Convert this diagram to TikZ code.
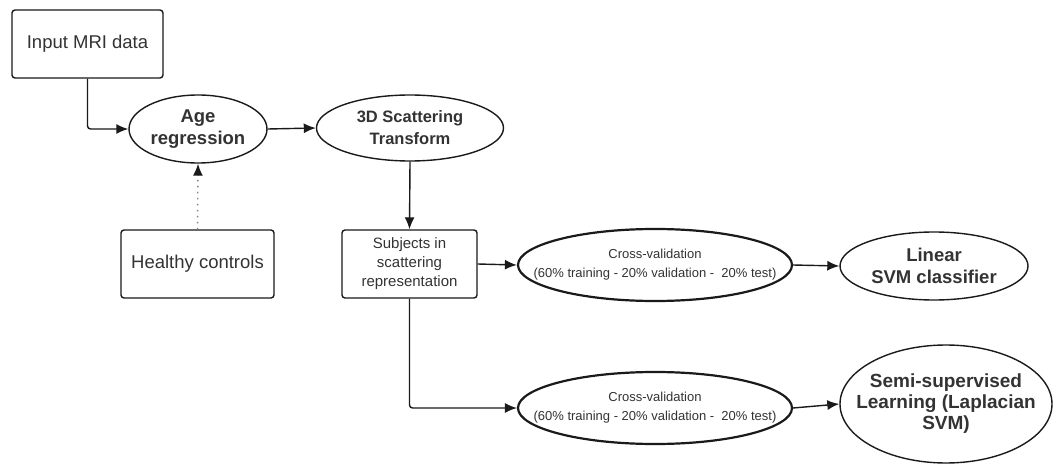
\documentclass[tikz,border=0pt]{standalone}
\usepackage{fontspec}
\setmainfont{Liberation Sans}
\usetikzlibrary{shapes.geometric,arrows.meta}
\definecolor{txt}{HTML}{333333}
\definecolor{ln}{HTML}{1A1A1A}
\begin{document}
\begin{tikzpicture}[x=1pt,y=-1pt,
  every node/.style={text=txt, align=center, inner sep=0pt},
  box/.style={draw=ln, line width=1.4pt, rounded corners=3pt, rectangle},
  ell/.style={draw=ln, line width=1.4pt, ellipse},
  cvell/.style={draw=ln, line width=2.2pt, ellipse},
  arr/.style={draw=ln, line width=1.4pt, -{Latex[length=12pt,width=10pt]}},
  big/.style={font=\fontsize{18.5pt}{22pt}\selectfont},
  bigb/.style={font=\fontsize{18.5pt}{22pt}\selectfont\bfseries},
  midb/.style={font=\fontsize{16.5pt}{22pt}\selectfont\bfseries},
  semib/.style={font=\fontsize{19pt}{21pt}\selectfont\bfseries},
  subf/.style={font=\fontsize{15pt}{19pt}\selectfont},
  cvf/.style={font=\fontsize{13pt}{19pt}\selectfont},
]
\useasboundingbox (0,0) rectangle (1055,465);
\fill[white] (0,0) rectangle (1055,465);

\node[box, big, minimum width=151pt, minimum height=68pt] (in) at (87.5,44) {Input MRI data};
\node[ell, minimum width=138pt, minimum height=68pt, label={[bigb]center:Age\\regression}] (age) at (198,129) {};
\node[ell, minimum width=187pt, minimum height=66pt, label={[midb]center:3D Scattering\\Transform}] (sc) at (410,128) {};
\node[box, big, minimum width=153pt, minimum height=68pt] (hc) at (197.5,264) {Healthy controls};
\node[box, subf, minimum width=135pt, minimum height=68pt] (sub) at (409.5,264) {Subjects in\\scattering\\representation};
\node[cvell, minimum width=274pt, minimum height=72pt, label={[cvf]center:Cross-validation\\(60\% training - 20\% validation - \ 20\% test)}] (cv1) at (655,265) {};
\node[ell, minimum width=188pt, minimum height=68pt, label={[bigb]center:Linear\\SVM classifier}] (lin) at (934,266) {};
\node[cvell, minimum width=274pt, minimum height=72pt, label={[cvf]center:Cross-validation\\(60\% training - 20\% validation - \ 20\% test)}] (cv2) at (655,408) {};
\node[ell, minimum width=212pt, minimum height=118pt, label={[semib]center:Semi-supervised\\Learning (Laplacian\\SVM)}] (semi) at (946,404) {};

\draw[arr, rounded corners=3pt] (in.south) |- (age.west);
\draw[arr] (age.east) -- (sc.west);
\draw[gray, line width=1.4pt, dash pattern=on 1.4pt off 4.6pt, -{Latex[length=12pt,width=10pt,color=ln]}] (hc.north) -- (age.south);
\draw[arr] (sc.south) -- (sub.north);
\draw[arr] (sub.east) -- (cv1.west);
\draw[arr] (cv1.east) -- (lin.west);
\draw[arr, rounded corners=3pt] (sub.south) |- (cv2.west);
\draw[arr] (cv2.east) -- (semi.west);
\end{tikzpicture}
\end{document}
